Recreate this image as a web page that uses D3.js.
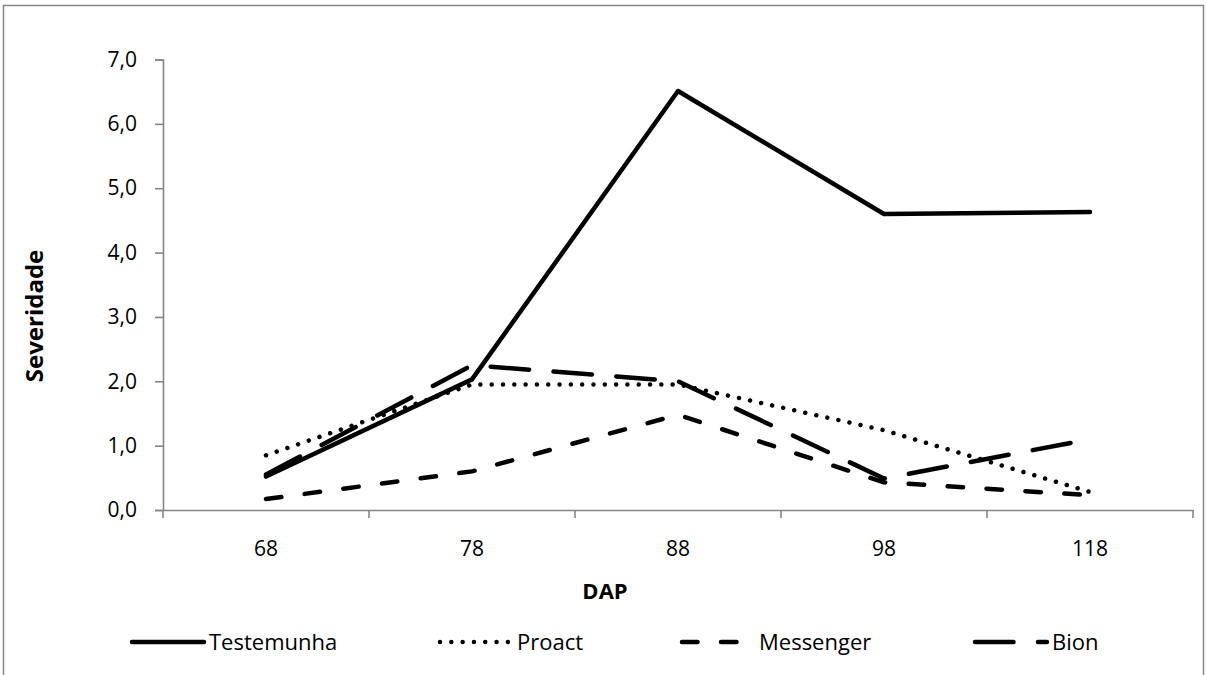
<!DOCTYPE html>
<html>
<head>
<meta charset="utf-8">
<script src="https://cdn.jsdelivr.net/npm/d3@7"></script>
<style>
  body { margin: 0; background: #fff; }
  svg text { font-family: "Open Sans", "Liberation Sans", sans-serif; fill: #000; }
</style>
</head>
<body>
<div id="chart"></div>
<script>
// data
const categories = ["68", "78", "88", "98", "118"]
const testemunha = [0.52, 2.03, 6.51, 4.60, 4.63]
const proact = [0.85, 1.95, 1.95, 1.24, 0.28]
const messenger = [0.17, 0.60, 1.48, 0.43, 0.23]
const bion = [0.55, 2.25, 2.00, 0.49, 1.10]
const yTicks = [0, 1, 2, 3, 4, 5, 6, 7]
const seriesNames = ["Testemunha", "Proact", "Messenger", "Bion"]

const series = [
    { name: seriesNames[0], values: testemunha, dash: null },
    { name: seriesNames[1], values: proact, dash: "0.01,11.3" },
    { name: seriesNames[2], values: messenger, dash: "15.5,23.5" },
    { name: seriesNames[3], values: bion, dash: "38.5,24.5" }
]

let width = 1207, height = 675
let plot = { left: 163, right: 1193, top: 59.5, bottom: 510 }
const axisColor = "#868686"

let svg = d3.select("#chart")
    .append("svg")
    .attr("width", width)
    .attr("height", height)

// chart frame (runs off the bottom like the original)
svg.append("rect")
    .attr("x", 3.5).attr("y", 5.5)
    .attr("width", 1200).attr("height", 720)
    .attr("fill", "none")
    .attr("stroke", axisColor)
    .attr("stroke-width", 1.5)

let x = d3.scaleBand().domain(categories).range([plot.left, plot.right])
let y = d3.scaleLinear().domain([0, 7]).range([plot.bottom, plot.top])
const cx = c => x(c) + x.bandwidth() / 2

// y axis
let yAxis = svg.append("g")
    .attr("transform", `translate(${plot.left},0)`)
    .call(d3.axisLeft(y).tickValues(yTicks).tickSize(8).tickPadding(18)
        .tickFormat(d => d3.format(".1f")(d).replace(".", ",")))
yAxis.select(".domain").attr("stroke", axisColor).attr("stroke-width", 1.6)
yAxis.selectAll(".tick line").attr("stroke", axisColor).attr("stroke-width", 1.6)
yAxis.selectAll(".tick text").attr("font-size", 21).attr("fill", "#000")
    .attr("font-family", "Open Sans")

// x axis: labels in the middle, tick marks between categories
let xAxis = svg.append("g")
    .attr("transform", `translate(0,${plot.bottom})`)
    .call(d3.axisBottom(x).tickSize(0).tickPadding(31))
xAxis.select(".domain").attr("stroke", axisColor).attr("stroke-width", 1.6)
xAxis.selectAll(".tick text").attr("font-size", 21).attr("fill", "#000")
    .attr("font-family", "Open Sans")

let bounds = categories.map(c => x(c)).concat([plot.right])
xAxis.selectAll(".bound")
    .data(bounds)
    .enter()
    .append("line")
    .attr("class", "bound")
    .attr("x1", d => d).attr("x2", d => d)
    .attr("y1", 0).attr("y2", 8)
    .attr("stroke", axisColor)
    .attr("stroke-width", 1.6)

// axis titles
svg.append("text")
    .attr("transform", "translate(43,316) rotate(-90)")
    .attr("text-anchor", "middle")
    .attr("font-size", 24)
    .attr("font-weight", "bold")
    .text("Severidade")

svg.append("text")
    .attr("x", 605).attr("y", 599)
    .attr("text-anchor", "middle")
    .attr("font-size", 22)
    .attr("font-weight", "bold")
    .text("DAP")

// series lines
let line = d3.line()
    .x((d, i) => cx(categories[i]))
    .y(d => y(d))

svg.selectAll(".series")
    .data(series)
    .enter()
    .append("path")
    .attr("class", "series")
    .attr("d", d => line(d.values))
    .attr("fill", "none")
    .attr("stroke", "#000")
    .attr("stroke-width", 4.5)
    .attr("stroke-linecap", "round")
    .attr("stroke-linejoin", "round")
    .attr("stroke-dasharray", d => d.dash)

// legend
let legendX = [132, 440, 682, 975]
let legendY = 642
let leg = svg.selectAll(".legend")
    .data(series)
    .enter()
    .append("g")
    .attr("class", "legend")
    .attr("transform", (d, i) => `translate(${legendX[i]},${legendY})`)

leg.append("line")
    .attr("x1", 0).attr("x2", 72)
    .attr("y1", 0).attr("y2", 0)
    .attr("stroke", "#000")
    .attr("stroke-width", 4.5)
    .attr("stroke-linecap", "round")
    .attr("stroke-dasharray", d => d.dash)

leg.append("text")
    .attr("x", 77)
    .attr("y", 8)
    .attr("font-size", 22)
    .text(d => d.name)
</script>
</body>
</html>
